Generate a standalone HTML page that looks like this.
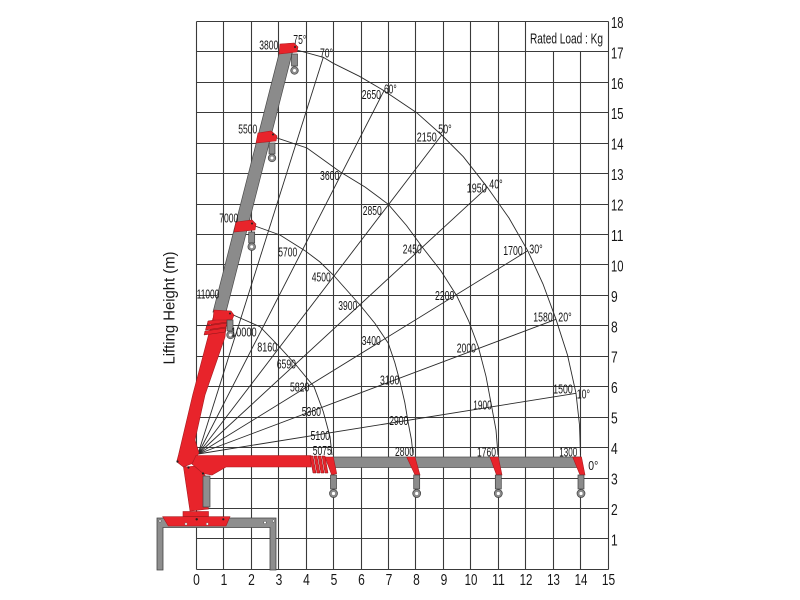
<!DOCTYPE html>
<html>
<head>
<meta charset="utf-8">
<style>
html,body{margin:0;padding:0;background:#fff;}
svg{display:block;}
text{font-family:"Liberation Sans",Arial,sans-serif;fill:#151515;}
</style>
</head>
<body>
<svg width="800" height="600" viewBox="0 0 800 600" xmlns="http://www.w3.org/2000/svg">
<rect width="800" height="600" fill="#fff"/>

<!-- grid -->
<g stroke="#3a3a3a" stroke-width="1.1" fill="none">
<path d="M196.5 21.5V569.5M223.5 21.5V569.5M251.5 21.5V569.5M278.5 21.5V569.5M306.5 21.5V569.5M333.5 21.5V569.5M361.5 21.5V569.5M388.5 21.5V569.5M415.5 21.5V569.5M443.5 21.5V569.5M470.5 21.5V569.5M498.5 21.5V569.5M525.5 21.5V569.5M553.5 51.5V569.5M580.5 51.5V569.5M608.5 21.5V569.5"/>
<path d="M196.5 569.5H608.5M196.5 538.5H608.5M196.5 508.5H608.5M196.5 478.5H608.5M196.5 447.5H608.5M196.5 417.5H608.5M196.5 386.5H608.5M196.5 356.5H608.5M196.5 325.5H608.5M196.5 295.5H608.5M196.5 264.5H608.5M196.5 234.5H608.5M196.5 204.5H608.5M196.5 173.5H608.5M196.5 143.5H608.5M196.5 112.5H608.5M196.5 82.5H608.5M196.5 51.5H608.5M196.5 21.5H608.5"/>
</g>

<!-- arcs -->
<g stroke="#2a2a2a" stroke-width="0.9" fill="none">
<polyline points="296.7,50 323.3,57.3 333.3,63.3 359.5,76.3 384,90.7 416.7,112.7 441.7,135 463.3,156.7 487.3,187.3 509,218 527.7,250.7 543,284 556,319.3 567.5,355 576,393.3 579.5,425 580.5,455"/>
<polyline points="275,137.3 307,148 340,171.7 365,187 388.3,204.3 406.5,225.5 423,248 441,271 456.7,295.7 468.5,320.5 478.3,346.7 486,376.3 491.7,406.7 496,430 498,455"/>
<polyline points="255,226 280,235 305,250.7 320,262 333.3,275 360,305 375,323.5 388.3,343.3 394.8,362.5 400,381.7 404.8,402.5 408.3,423.3 411.5,440 413,455"/>
<polyline points="233.3,315 260,326.7 279.3,346.7 296,365 314,386.7 323.3,411.7 330,436.7 332,455"/>
</g>
<!-- radial lines -->
<g stroke="#2a2a2a" stroke-width="0.9">
<line x1="198" y1="454" x2="323.3" y2="57.3"/>
<line x1="198" y1="454" x2="384" y2="90.7"/>
<line x1="198" y1="454" x2="441.7" y2="135"/>
<line x1="198" y1="454" x2="487.3" y2="187.3"/>
<line x1="198" y1="454" x2="527.7" y2="250.7"/>
<line x1="198" y1="454" x2="556" y2="319.3"/>
<line x1="198" y1="454" x2="576" y2="393.3"/>
</g>

<!-- base frame -->
<path d="M157 518H276V570H270V527.5H163V570H157Z" fill="#8e8e8e" stroke="#444" stroke-width="0.8"/>
<circle cx="160" cy="521" r="1.2" fill="#fff" stroke="#444" stroke-width="0.5"/>
<circle cx="265" cy="522.5" r="1.4" fill="#fff" stroke="#444" stroke-width="0.5"/>
<circle cx="273.5" cy="521" r="1.2" fill="#fff" stroke="#444" stroke-width="0.5"/>
<!-- red base -->
<polygon points="162.7,516.7 230,516.7 226,526 168.3,526" fill="#e8242b" stroke="#a81a1f" stroke-width="0.6"/>
<rect x="183" y="511.5" width="25.5" height="5" fill="#e8242b" stroke="#a81a1f" stroke-width="0.6"/>
<circle cx="186" cy="524" r="1.2" fill="#fff" stroke="#555" stroke-width="0.4"/>
<circle cx="207.3" cy="524" r="1.2" fill="#fff" stroke="#555" stroke-width="0.4"/>
<circle cx="196.7" cy="519.3" r="1.2" fill="#222"/>
<circle cx="223.3" cy="519.3" r="1.1" fill="#222"/>
<!-- column -->
<polygon points="183.5,467 196.7,466 205,475 208.5,509 190,511" fill="#e8242b" stroke="#a81a1f" stroke-width="0.6"/>
<rect x="203" y="476" width="7" height="31" fill="#8e8e8e" stroke="#444" stroke-width="0.7"/>

<!-- inclined red base section -->
<polygon points="213,318 227,318 225,337 205,395 195,440 199,453 192,463.5 183.5,467 176.7,461.7 178.5,455 192.7,395 208,337" fill="#e8242b" stroke="#a81a1f" stroke-width="0.6"/>
<!-- horizontal red arm -->
<polygon points="196,455.5 311,455.5 311,467 226,467 212,475 203,473.5 192,464" fill="#e8242b" stroke="#a81a1f" stroke-width="0.6"/>
<circle cx="177.5" cy="461.5" r="1.1" fill="#222"/>
<circle cx="188.5" cy="467.5" r="1.1" fill="#222"/>
<circle cx="203" cy="473.5" r="1.1" fill="#222"/>

<!-- gray horizontal boom -->
<rect x="333" y="457" width="248" height="10.5" fill="#8b8b8b" stroke="#4a4a4a" stroke-width="0.7"/>
<!-- coils horizontal -->
<g fill="#e8242b" stroke="#8a1418" stroke-width="0.5">
<polygon points="310,456 313,456 316,473 313,473"/>
<polygon points="314,456 317,456 320,473 317,473"/>
<polygon points="318,456 321,456 324,473 321,473"/>
<polygon points="322,456 325,456 328,473 325,473"/>
</g>
<!-- heads horizontal -->
<g fill="#e8242b" stroke="#a81a1f" stroke-width="0.6">
<polygon points="325,457 333.3,457 336.7,473.5 331.7,475"/>
<polygon points="406.7,457 415,457 420,475 415,475"/>
<polygon points="490,457 498.3,457 502,475 496.5,475"/>
<polygon points="572.7,457 581.5,457 585,475 580,475"/>
</g>

<!-- gray inclined boom -->
<polygon points="280,50 293,50 226,312 213,312" fill="#8b8b8b" stroke="#4a4a4a" stroke-width="0.7"/>
<!-- coils inclined -->
<g fill="#e8242b" stroke="#8a1418" stroke-width="0.5">
<polygon points="208,321 228,318 227,322 207,325"/>
<polygon points="206.5,326 227,323 226,327 205.5,330"/>
<polygon points="205,331 226,328 225,332 204,335"/>
</g>
<!-- heads inclined -->
<g fill="#e8242b" stroke="#a81a1f" stroke-width="0.6">
<polygon points="214,310 231,311 234,315 232,320 213,320"/>
<polygon points="236,222 252,220 256,224 255,230 234,232"/>
<polygon points="258,133 271,131 277,136 276,141 256,143"/>
<polygon points="280,44 294,43 298,47 297,52 279,54"/>
</g>
<g fill="#222">
<circle cx="230" cy="313.5" r="1"/>
<circle cx="252" cy="223.5" r="1"/>
<circle cx="273" cy="134.5" r="1"/>
<circle cx="295" cy="47" r="1"/>
</g>

<!-- hooks -->
<g fill="#8b8b8b" stroke="#3f3f3f" stroke-width="0.7">
<rect x="227" y="320" width="6" height="11"/><circle cx="230.5" cy="335" r="3.8"/>
<rect x="248.7" y="232" width="6" height="11"/><circle cx="251.7" cy="246.7" r="3.8"/>
<rect x="269" y="143" width="6" height="11"/><circle cx="272" cy="158" r="3.8"/>
<rect x="291.5" y="54" width="6" height="12"/><circle cx="294.5" cy="70.5" r="3.8"/>
<rect x="330.5" y="475" width="6" height="14"/><circle cx="333.5" cy="493.5" r="4"/>
<rect x="413.7" y="475" width="6" height="14"/><circle cx="416.7" cy="493.5" r="4"/>
<rect x="495.3" y="475" width="6" height="14"/><circle cx="498.3" cy="493.5" r="4"/>
<rect x="578" y="475" width="6" height="14"/><circle cx="581" cy="493.5" r="4"/>
</g>
<g fill="#fff">
<circle cx="230.5" cy="335" r="1.5"/><circle cx="251.7" cy="246.7" r="1.5"/><circle cx="272" cy="158" r="1.5"/><circle cx="294.5" cy="70.5" r="1.5"/>
<circle cx="333.5" cy="493.5" r="1.6"/><circle cx="416.7" cy="493.5" r="1.6"/><circle cx="498.3" cy="493.5" r="1.6"/><circle cx="581" cy="493.5" r="1.6"/>
</g>

<!-- load labels -->
<g style="font-size:13px">
<text x="259.3" y="49.3" textLength="19" lengthAdjust="spacingAndGlyphs">3800</text>
<text x="293.3" y="44" textLength="13" lengthAdjust="spacingAndGlyphs">75°</text>
<text x="320" y="57.3" textLength="13" lengthAdjust="spacingAndGlyphs">70°</text>
<text x="361.7" y="99" textLength="19.3" lengthAdjust="spacingAndGlyphs">2650</text>
<text x="384" y="93.3" textLength="12.7" lengthAdjust="spacingAndGlyphs">60°</text>
<text x="238.3" y="133.3" textLength="19" lengthAdjust="spacingAndGlyphs">5500</text>
<text x="416.7" y="141.7" textLength="20" lengthAdjust="spacingAndGlyphs">2150</text>
<text x="438.3" y="133.3" textLength="13.4" lengthAdjust="spacingAndGlyphs">50°</text>
<text x="320" y="180" textLength="19.3" lengthAdjust="spacingAndGlyphs">3600</text>
<text x="362.7" y="215" textLength="19" lengthAdjust="spacingAndGlyphs">2850</text>
<text x="219.3" y="222.7" textLength="19" lengthAdjust="spacingAndGlyphs">7000</text>
<text x="278.3" y="256.7" textLength="19" lengthAdjust="spacingAndGlyphs">5700</text>
<text x="402.7" y="253.3" textLength="19" lengthAdjust="spacingAndGlyphs">2450</text>
<text x="311.7" y="281.7" textLength="19" lengthAdjust="spacingAndGlyphs">4500</text>
<text x="196.7" y="298.3" textLength="22.6" lengthAdjust="spacingAndGlyphs">11000</text>
<text x="338.3" y="310" textLength="19" lengthAdjust="spacingAndGlyphs">3900</text>
<text x="466.7" y="192.7" textLength="20" lengthAdjust="spacingAndGlyphs">1950</text>
<text x="489.3" y="188.3" textLength="13.4" lengthAdjust="spacingAndGlyphs">40°</text>
<text x="503.3" y="255" textLength="19.4" lengthAdjust="spacingAndGlyphs">1700</text>
<text x="529.3" y="253.3" textLength="13.4" lengthAdjust="spacingAndGlyphs">30°</text>
<text x="435" y="300" textLength="19.3" lengthAdjust="spacingAndGlyphs">2200</text>
<text x="533.3" y="321.7" textLength="19.4" lengthAdjust="spacingAndGlyphs">1580</text>
<text x="558.3" y="321.7" textLength="13.4" lengthAdjust="spacingAndGlyphs">20°</text>
<text x="553.3" y="393.3" textLength="19.4" lengthAdjust="spacingAndGlyphs">1500</text>
<text x="576.7" y="398.3" textLength="13.3" lengthAdjust="spacingAndGlyphs">10°</text>
<text x="473.3" y="409.3" textLength="18.4" lengthAdjust="spacingAndGlyphs">1900</text>
<text x="477" y="456.3" textLength="19" lengthAdjust="spacingAndGlyphs">1760</text>
<text x="559.3" y="456.5" textLength="18" lengthAdjust="spacingAndGlyphs">1300</text>
<text x="588.3" y="470" textLength="10" lengthAdjust="spacingAndGlyphs">0°</text>
<text x="312.7" y="455" textLength="19" lengthAdjust="spacingAndGlyphs">5075</text>
<text x="395" y="456" textLength="19" lengthAdjust="spacingAndGlyphs">2800</text>
<text x="257.3" y="351.7" textLength="20" lengthAdjust="spacingAndGlyphs">8160</text>
<text x="276.7" y="368.3" textLength="19.3" lengthAdjust="spacingAndGlyphs">6590</text>
<text x="290" y="391.7" textLength="19.3" lengthAdjust="spacingAndGlyphs">5820</text>
<text x="301.7" y="416" textLength="19.3" lengthAdjust="spacingAndGlyphs">5360</text>
<text x="361.7" y="345" textLength="19" lengthAdjust="spacingAndGlyphs">3400</text>
<text x="380" y="384.3" textLength="19.3" lengthAdjust="spacingAndGlyphs">3100</text>
<text x="389.3" y="425" textLength="19" lengthAdjust="spacingAndGlyphs">2900</text>
<text x="456.7" y="352.7" textLength="19.3" lengthAdjust="spacingAndGlyphs">2000</text>
<text x="231" y="336.7" textLength="25.7" lengthAdjust="spacingAndGlyphs">10000</text>
<text x="310.5" y="440" textLength="19.5" lengthAdjust="spacingAndGlyphs">5100</text>
</g>

<text x="530" y="43.3" style="font-size:15px" textLength="73" lengthAdjust="spacingAndGlyphs">Rated Load : Kg</text>

<!-- right axis labels -->
<g style="font-size:16px">
<text x="611" y="28" textLength="12.5" lengthAdjust="spacingAndGlyphs">18</text>
<text x="611" y="58.3" textLength="12.5" lengthAdjust="spacingAndGlyphs">17</text>
<text x="611" y="88.8" textLength="12.5" lengthAdjust="spacingAndGlyphs">16</text>
<text x="611" y="119.2" textLength="12.5" lengthAdjust="spacingAndGlyphs">15</text>
<text x="611" y="149.6" textLength="12.5" lengthAdjust="spacingAndGlyphs">14</text>
<text x="611" y="180.1" textLength="12.5" lengthAdjust="spacingAndGlyphs">13</text>
<text x="611" y="210.5" textLength="12.5" lengthAdjust="spacingAndGlyphs">12</text>
<text x="611" y="241" textLength="12.5" lengthAdjust="spacingAndGlyphs">11</text>
<text x="611" y="271.4" textLength="12.5" lengthAdjust="spacingAndGlyphs">10</text>
<text x="611" y="301.8" textLength="6.7" lengthAdjust="spacingAndGlyphs">9</text>
<text x="611" y="332.3" textLength="6.7" lengthAdjust="spacingAndGlyphs">8</text>
<text x="611" y="362.7" textLength="6.7" lengthAdjust="spacingAndGlyphs">7</text>
<text x="611" y="393.2" textLength="6.7" lengthAdjust="spacingAndGlyphs">6</text>
<text x="611" y="423.6" textLength="6.7" lengthAdjust="spacingAndGlyphs">5</text>
<text x="611" y="454" textLength="6.7" lengthAdjust="spacingAndGlyphs">4</text>
<text x="611" y="484.5" textLength="6.7" lengthAdjust="spacingAndGlyphs">3</text>
<text x="611" y="514.9" textLength="6.7" lengthAdjust="spacingAndGlyphs">2</text>
<text x="611" y="545.4" textLength="6.7" lengthAdjust="spacingAndGlyphs">1</text>
</g>

<!-- bottom axis labels -->
<g style="font-size:16px" text-anchor="middle">
<text x="196.5" y="585" textLength="6.7" lengthAdjust="spacingAndGlyphs">0</text>
<text x="224" y="585" textLength="6.7" lengthAdjust="spacingAndGlyphs">1</text>
<text x="251.5" y="585" textLength="6.7" lengthAdjust="spacingAndGlyphs">2</text>
<text x="279" y="585" textLength="6.7" lengthAdjust="spacingAndGlyphs">3</text>
<text x="306.5" y="585" textLength="6.7" lengthAdjust="spacingAndGlyphs">4</text>
<text x="334" y="585" textLength="6.7" lengthAdjust="spacingAndGlyphs">5</text>
<text x="361.5" y="585" textLength="6.7" lengthAdjust="spacingAndGlyphs">6</text>
<text x="389" y="585" textLength="6.7" lengthAdjust="spacingAndGlyphs">7</text>
<text x="416.5" y="585" textLength="6.7" lengthAdjust="spacingAndGlyphs">8</text>
<text x="444" y="585" textLength="6.7" lengthAdjust="spacingAndGlyphs">9</text>
<text x="471" y="585" textLength="12.8" lengthAdjust="spacingAndGlyphs">10</text>
<text x="498.5" y="585" textLength="12.8" lengthAdjust="spacingAndGlyphs">11</text>
<text x="526" y="585" textLength="12.8" lengthAdjust="spacingAndGlyphs">12</text>
<text x="553.5" y="585" textLength="12.8" lengthAdjust="spacingAndGlyphs">13</text>
<text x="581" y="585" textLength="12.8" lengthAdjust="spacingAndGlyphs">14</text>
<text x="608.5" y="585" textLength="13.3" lengthAdjust="spacingAndGlyphs">15</text>
</g>

<!-- y axis title -->
<text transform="translate(174.5,308) rotate(-90)" text-anchor="middle" style="font-size:15.5px" textLength="113" lengthAdjust="spacingAndGlyphs">Lifting Height (m)</text>
</svg>
</body>
</html>
